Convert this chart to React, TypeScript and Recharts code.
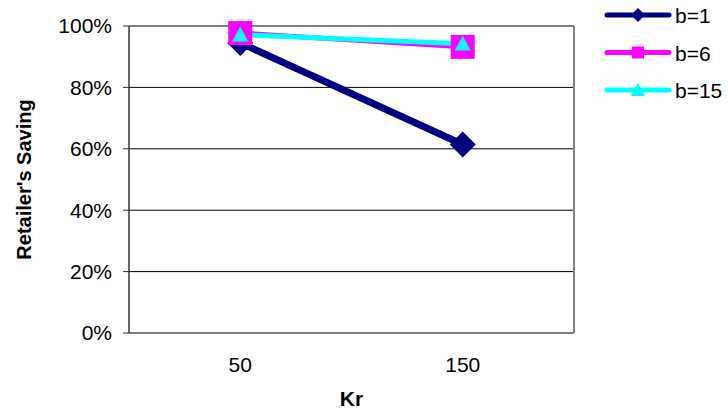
import React from "react";
import { LineChart, Line, XAxis, YAxis, CartesianGrid, Legend, Label } from "recharts";

// values
const KR = ["50", "150"];
const B1 = [0.945, 0.614];
const B6 = [0.977, 0.932];
const B15 = [0.972, 0.942];
const Y_TICKS = [0, 0.2, 0.4, 0.6, 0.8, 1];

const data = KR.map((kr, i) => ({ kr, b1: B1[i], b6: B6[i], b15: B15[i] }));

const FONT = "Arial, 'Liberation Sans', sans-serif";
const NAVY = "#000080";
const MAGENTA = "#FF00FF";
const CYAN = "#00FFFF";

function marker(kind: string, cx: number, cy: number, s: number, color: string, key?: any) {
  if (kind === "diamond") {
    return <path key={key} d={`M${cx},${cy - s}L${cx + s},${cy}L${cx},${cy + s}L${cx - s},${cy}Z`} fill={color} />;
  }
  if (kind === "square") {
    return <rect key={key} x={cx - s} y={cy - s} width={2 * s} height={2 * s} fill={color} />;
  }
  return <path key={key} d={`M${cx},${cy - s}L${cx + s},${cy + s * 0.85}L${cx - s},${cy + s * 0.85}Z`} fill={color} />;
}

const dotFor = (kind: string, s: number, color: string) => (p: any) =>
  marker(kind, p.cx, p.cy, s, color, `${kind}-${p.index}`);

const LEGEND = [
  { name: "b=1", color: NAVY, kind: "diamond", s: 7 },
  { name: "b=6", color: MAGENTA, kind: "square", s: 6 },
  { name: "b=15", color: CYAN, kind: "triangle", s: 7 },
];

function LegendBox() {
  return (
    <svg width={125} height={105}>
      {LEGEND.map((e, i) => {
        const y = 15 + i * 37.5;
        return (
          <g key={e.name}>
            <line x1={4} y1={y} x2={66} y2={y} stroke={e.color} strokeWidth={5} strokeLinecap="round" />
            {marker(e.kind, 35, y, e.s, e.color)}
            <text x={72} y={y + 8} fontFamily={FONT} fontSize={21} fill="#000">{e.name}</text>
          </g>
        );
      })}
    </svg>
  );
}

export default function App() {
  return (
    <div style={{ position: "absolute", left: 0, top: 0, background: "#fff" }}>
      <LineChart width={728} height={417} data={data} margin={{ top: 26, right: 153, left: 0, bottom: 0 }}>
        <CartesianGrid vertical={false} stroke="#000" strokeWidth={1} />
        <XAxis
          dataKey="kr"
          scale="band"
          height={84}
          tickLine={false}
          axisLine={{ stroke: "#808080", strokeWidth: 2 }}
          tick={{ fill: "#000", fontSize: 21, fontFamily: FONT }}
          tickMargin={18}
        >
          <Label value="Kr" position="insideBottom" offset={11} fill="#000" fontSize={21} fontWeight="bold" fontFamily={FONT} />
        </XAxis>
        <XAxis xAxisId="top" dataKey="kr" scale="band" orientation="top" height={0} tick={false} tickLine={false} axisLine={{ stroke: "#808080", strokeWidth: 2 }} />
        <YAxis
          width={129}
          domain={[0, 1]}
          ticks={Y_TICKS}
          tickFormatter={(v: number) => `${Math.round(v * 100)}%`}
          tick={{ fill: "#000", fontSize: 21, fontFamily: FONT }}
          tickLine={{ stroke: "#333" }}
          tickSize={6}
          tickMargin={11}
          axisLine={{ stroke: "#333", strokeWidth: 1.5 }}
        >
          <Label
            value="Retailer's Saving"
            angle={-90}
            position="insideLeft"
            offset={24}
            fill="#000"
            fontSize={20}
            fontWeight="bold"
            fontFamily={FONT}
            style={{ textAnchor: "middle" }}
          />
        </YAxis>
        <YAxis yAxisId="right" orientation="right" width={1} domain={[0, 1]} ticks={Y_TICKS} tick={false} tickLine={false} axisLine={{ stroke: "#808080", strokeWidth: 2 }} />
        <Legend
          layout="vertical"
          verticalAlign="middle"
          align="center"
          content={() => <LegendBox />}
          wrapperStyle={{ position: "absolute", left: 603, top: 0, width: 125 }}
        />
        <Line dataKey="b1" stroke={NAVY} strokeWidth={7} dot={dotFor("diamond", 13, NAVY)} isAnimationActive={false} />
        <Line dataKey="b6" stroke={MAGENTA} strokeWidth={5} dot={dotFor("square", 12, MAGENTA)} isAnimationActive={false} />
        <Line dataKey="b15" stroke={CYAN} strokeWidth={5} dot={dotFor("triangle", 8, CYAN)} isAnimationActive={false} />
      </LineChart>
    </div>
  );
}
